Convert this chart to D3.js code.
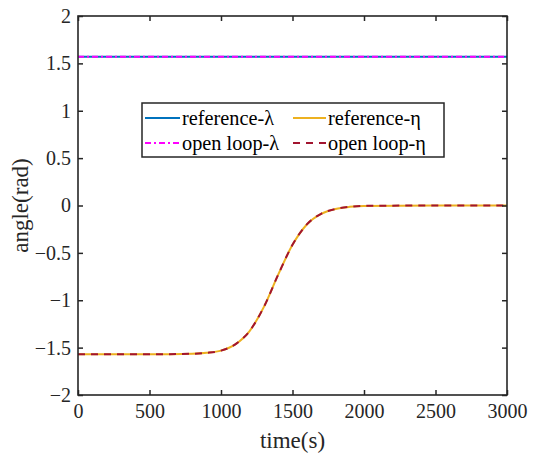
<!DOCTYPE html>
<html><head><meta charset="utf-8">
<script src="https://cdn.jsdelivr.net/npm/d3@7"></script>
<style>body{margin:0;background:#fff}svg{display:block}svg text{font-family:"Liberation Serif","Times New Roman",serif !important}</style>
</head><body>
<svg id="c" width="533" height="456"></svg>
<script>
const timeVals = [0, 500, 800, 900, 1000, 1100, 1200, 1300, 1400, 1500, 1600, 1700, 1800, 1900, 2000, 2500, 3000];
const lambdaRef = [1.5708, 1.5708, 1.5708, 1.5708, 1.5708, 1.5708, 1.5708, 1.5708, 1.5708, 1.5708, 1.5708, 1.5708, 1.5708, 1.5708, 1.5708, 1.5708, 1.5708];
const etaRef = [-1.5708, -1.5705, -1.565, -1.555, -1.532, -1.465, -1.325, -1.07, -0.73, -0.415, -0.2, -0.088, -0.037, -0.014, -0.004, 0, 0];
const lambdaOpen = lambdaRef.slice();
const etaOpen = etaRef.slice();
const xTicks = [0, 500, 1000, 1500, 2000, 2500, 3000];
const yTicks = [-2, -1.5, -1, -0.5, 0, 0.5, 1, 1.5, 2];
const seriesNames = ["reference-λ", "reference-η", "open loop-λ", "open loop-η"];

const svg = d3.select("#c");
const L = 78, R = 507, T = 16, B = 395;
const x = d3.scaleLinear().domain([0, 3000]).range([L, R]);
const y = d3.scaleLinear().domain([-2, 2]).range([B, T]);
const font = "Liberation Serif";

const line = vals => d3.line().x((d, i) => x(timeVals[i])).y(d => y(d)).curve(d3.curveMonotoneX)(vals);

const styles = [
  {vals: lambdaRef, color: "#0072BD", dash: null},
  {vals: etaRef, color: "#EDB120", dash: null},
  {vals: lambdaOpen, color: "#FF00FF", dash: "6,3,2,3"},
  {vals: etaOpen, color: "#A2142F", dash: "7,6"}
];
styles.forEach(s => {
  svg.append("path").attr("d", line(s.vals)).attr("fill", "none")
    .attr("stroke", s.color).attr("stroke-width", 2)
    .attr("stroke-dasharray", s.dash);
});

// axes
const xb = svg.append("g").attr("transform", `translate(0,${B})`)
  .call(d3.axisBottom(x).tickValues(xTicks).tickSize(-5).tickPadding(9).tickFormat(d3.format("d")));
const xt = svg.append("g").attr("transform", `translate(0,${T})`)
  .call(d3.axisTop(x).tickValues(xTicks).tickSize(-5).tickFormat(""));
const yl = svg.append("g").attr("transform", `translate(${L},0)`)
  .call(d3.axisLeft(y).tickValues(yTicks).tickSize(-5).tickPadding(7).tickFormat(d => d3.format("")(d)));
const yr = svg.append("g").attr("transform", `translate(${R},0)`)
  .call(d3.axisRight(y).tickValues(yTicks).tickSize(-5).tickFormat(""));
[xb, xt, yl, yr].forEach(g => {
  g.attr("font-family", null).attr("font-size", null);
  g.select(".domain").remove();
  g.selectAll("line").attr("stroke", "#262626").attr("stroke-width", 1.5);
  g.selectAll("text").style("font-family", font).style("font-size", "20px").attr("fill", "#262626");
});
svg.append("rect").attr("x", L).attr("y", T).attr("width", R - L).attr("height", B - T)
  .attr("fill", "none").attr("stroke", "#262626").attr("stroke-width", 1.6);

svg.append("text").attr("x", (L + R) / 2).attr("y", 448).attr("text-anchor", "middle")
  .style("font-family", font).style("font-size", "23px").attr("fill", "#262626").text("time(s)");
svg.append("text").attr("transform", `translate(28,${(T + B) / 2}) rotate(-90)`).attr("text-anchor", "middle")
  .style("font-family", font).style("font-size", "23px").attr("fill", "#262626").text("angle(rad)");

// legend
const lg = svg.append("g");
lg.append("rect").attr("x", 142).attr("y", 103).attr("width", 302).attr("height", 54)
  .attr("fill", "#fff").attr("stroke", "#262626").attr("stroke-width", 1.5);
const items = [
  {lx: 145, rx: 180, ty: 118, ...styles[0], name: seriesNames[0]},
  {lx: 293, rx: 326, ty: 118, ...styles[1], name: seriesNames[1]},
  {lx: 145, rx: 180, ty: 143, ...styles[2], name: seriesNames[2]},
  {lx: 293, rx: 326, ty: 143, ...styles[3], name: seriesNames[3]}
];
items.forEach(it => {
  lg.append("line").attr("x1", it.lx).attr("x2", it.rx).attr("y1", it.ty).attr("y2", it.ty)
    .attr("stroke", it.color).attr("stroke-width", 2).attr("stroke-dasharray", it.dash);
  lg.append("text").attr("x", it.rx + 2).attr("y", it.ty + 7)
    .style("font-family", font).style("font-size", "20.3px").attr("fill", "#000").text(it.name);
});
</script>
</body></html>
